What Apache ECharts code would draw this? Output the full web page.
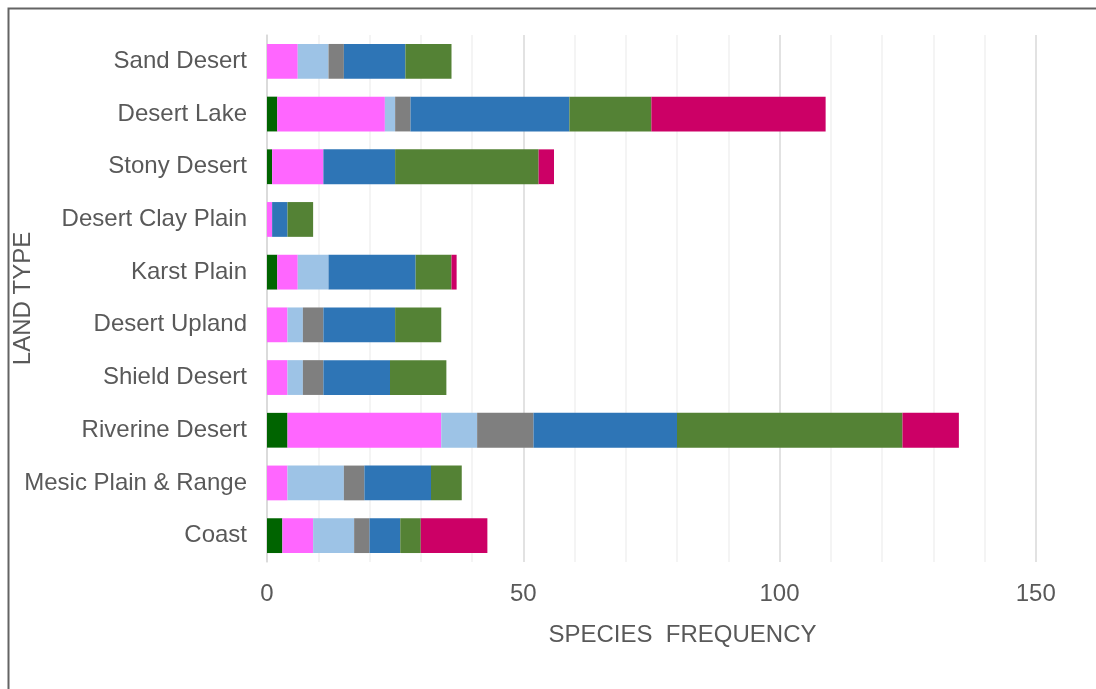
<!DOCTYPE html>
<html>
<head>
<meta charset="utf-8">
<script src="https://cdn.jsdelivr.net/npm/echarts@6/dist/echarts.min.js"></script>
<style>
  html, body { margin: 0; padding: 0; background: #ffffff; }
  #chart { width: 1096px; height: 689px; }
</style>
</head>
<body>
<div id="chart"></div>
<script>
// Land types, listed from top to bottom
const landTypes = [
  'Sand Desert', 'Desert Lake', 'Stony Desert', 'Desert Clay Plain', 'Karst Plain',
  'Desert Upland', 'Shield Desert', 'Riverine Desert', 'Mesic Plain & Range', 'Coast'
];

// Species frequency per group, one value per land type (same order as above)
const group1 = [0, 2, 1, 0, 2, 0, 0, 4, 0, 3];
const group2 = [6, 21, 10, 1, 4, 4, 4, 30, 4, 6];
const group3 = [6, 2, 0, 0, 6, 3, 3, 7, 11, 8];
const group4 = [3, 3, 0, 0, 0, 4, 4, 11, 4, 3];
const group5 = [12, 31, 14, 3, 17, 14, 13, 28, 13, 6];
const group6 = [9, 16, 28, 5, 7, 9, 11, 44, 6, 4];
const group7 = [0, 34, 3, 0, 1, 0, 0, 11, 0, 13];

const groupNames = ['Group 1', 'Group 2', 'Group 3', 'Group 4', 'Group 5', 'Group 6', 'Group 7'];
const groupValues = [group1, group2, group3, group4, group5, group6, group7];
const groupColors = ['#006400', '#FF66FF', '#9DC3E6', '#7F7F7F', '#2E75B6', '#548235', '#CC0066'];

// Axis range and tick labels
const axisMin = 0;
const axisMax = 160;
const axisStep = 10;
const labelledTicks = [0, 50, 100, 150];

const textColor = '#595959';
const fontFamily = '"Liberation Sans", Arial, sans-serif';

// Every fifth gridline is drawn darker; the one at the far right is left out
const gridColors = [];
for (let v = axisMin; v <= axisMax; v += axisStep) {
  if (v === axisMax) gridColors.push('rgba(0,0,0,0)');
  else if (labelledTicks.indexOf(v) >= 0) gridColors.push('#d9d9d9');
  else gridColors.push('#f0f0f0');
}

const chart = echarts.init(document.getElementById('chart'), null, { renderer: 'canvas' });

chart.setOption({
  animation: false,
  backgroundColor: '#ffffff',
  textStyle: { fontFamily: fontFamily },
  graphic: [{
    type: 'rect',
    silent: true,
    shape: { x: 8.5, y: 8.5, width: 1200, height: 1000 },
    style: { fill: 'none', stroke: '#646464', lineWidth: 2 }
  }],
  grid: { left: 267, right: 9, top: 35, bottom: 127, containLabel: false, outerBoundsMode: 'none' },
  xAxis: {
    type: 'value',
    min: axisMin,
    max: axisMax,
    interval: axisStep,
    name: 'SPECIES  FREQUENCY',
    nameLocation: 'middle',
    nameGap: 61,
    nameMoveOverlap: false,
    nameTextStyle: { color: textColor, fontSize: 24, fontFamily: fontFamily, padding: [0, 0, 0, 11] },
    axisLine: { show: false },
    axisTick: { show: false },
    axisLabel: {
      color: textColor,
      fontSize: 24,
      fontFamily: fontFamily,
      margin: 20,
      formatter: function (v) { return labelledTicks.indexOf(v) >= 0 ? String(v) : ''; }
    },
    splitLine: { show: true, lineStyle: { color: gridColors, width: 1.5 } }
  },
  yAxis: {
    type: 'category',
    data: landTypes,
    inverse: true,
    name: 'LAND TYPE',
    nameLocation: 'middle',
    nameRotate: 90,
    nameGap: 232,
    nameMoveOverlap: false,
    nameTextStyle: { color: textColor, fontSize: 24, fontFamily: fontFamily },
    axisLine: { show: true, lineStyle: { color: '#d9d9d9', width: 1.5 } },
    axisTick: { show: false },
    axisLabel: { color: textColor, fontSize: 24, fontFamily: fontFamily, margin: 20 },
    splitLine: { show: false }
  },
  series: groupNames.map(function (name, i) {
    return {
      name: name,
      type: 'bar',
      stack: 'total',
      barCategoryGap: '34%',
      data: groupValues[i],
      itemStyle: { color: groupColors[i] },
      emphasis: { disabled: true }
    };
  })
});
</script>
</body>
</html>
